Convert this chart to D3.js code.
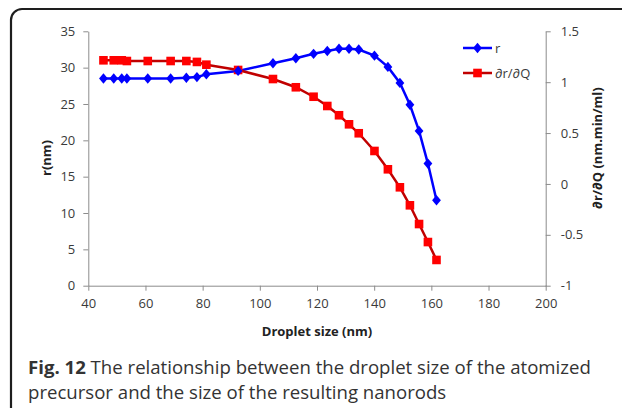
<!DOCTYPE html>
<html>
<head>
<meta charset="utf-8">
<script src="https://cdn.jsdelivr.net/npm/d3@7"></script>
<style>
  body { margin: 0; background: #fff; }
  svg { display: block; }
  .axis path, .axis line { stroke: #8c8c8c; }
  .axis text { font-family: "Open Sans", sans-serif; font-size: 13px; fill: #3a3a3a; }
</style>
</head>
<body>
<div id="chart"></div>
<script>
var dropletSize = [45.3, 48.9, 51.7, 53.5, 60.8, 68.8, 74.3, 78, 81.3, 92.4, 104.6, 112.6,
                   118.8, 123.6, 127.7, 131.2, 134.6, 140.1, 144.8, 149, 152.5, 155.7, 158.8, 161.8];
var rValues = [28.5, 28.5, 28.5, 28.5, 28.5, 28.5, 28.6, 28.7, 29.1, 29.55, 30.6, 31.3,
               31.9, 32.3, 32.6, 32.6, 32.5, 31.65, 30.1, 27.9, 24.9, 21.3, 16.8, 11.75];
var drdqValues = [1.215, 1.215, 1.215, 1.208, 1.208, 1.208, 1.208, 1.199, 1.172, 1.12, 1.031, 0.95,
                  0.857, 0.766, 0.675, 0.586, 0.498, 0.324, 0.144, -0.033, -0.21, -0.394, -0.571, -0.747];
var xTicks = [40, 60, 80, 100, 120, 140, 160, 180, 200];
var leftTicks = [0, 5, 10, 15, 20, 25, 30, 35];
var rightTicks = [-1, -0.5, 0, 0.5, 1, 1.5];
var seriesNames = ["r", "\u2202r/\u2202Q"];

var width = 622, height = 408;
var svg = d3.select("#chart").append("svg")
  .attr("width", width)
  .attr("height", height);

svg.append("rect").attr("width", width).attr("height", height).attr("fill", "#fff");

// figure frame (runs off the right and bottom edges)
svg.append("rect")
  .attr("x", 11).attr("y", 9)
  .attr("width", 640).attr("height", 420)
  .attr("rx", 11)
  .attr("fill", "none")
  .attr("stroke", "#1e1e1e")
  .attr("stroke-width", 2.2);

var xScale = d3.scaleLinear().domain([40, 200]).range([88.3, 545.7]);
var yLeft = d3.scaleLinear().domain([0, 35]).range([285.7, 31.3]);
var yRight = d3.scaleLinear().domain([-1, 1.5]).range([285.7, 31.3]);

// plain hyphen for negatives, like the original
var fmt = function(d) { return String(d); };

svg.append("g")
  .attr("class", "axis")
  .attr("transform", "translate(0," + yLeft(0) + ")")
  .call(d3.axisBottom(xScale).tickValues(xTicks).tickSize(5).tickPadding(8).tickSizeOuter(0).tickFormat(fmt));

svg.append("g")
  .attr("class", "axis")
  .attr("transform", "translate(" + xScale(40) + ",0)")
  .call(d3.axisLeft(yLeft).tickValues(leftTicks).tickSize(5).tickPadding(8).tickSizeOuter(0).tickFormat(fmt));

svg.append("g")
  .attr("class", "axis")
  .attr("transform", "translate(" + xScale(200) + ",0)")
  .call(d3.axisRight(yRight).tickValues(rightTicks).tickSize(5).tickPadding(10).tickSizeOuter(0).tickFormat(fmt));

// axis titles
svg.append("text")
  .attr("x", 317).attr("y", 336)
  .attr("text-anchor", "middle")
  .style("font-family", "'Open Sans', sans-serif")
  .style("font-weight", "bold").style("font-size", "13px").attr("fill", "#222")
  .text("Droplet size (nm)");

svg.append("text")
  .attr("transform", "translate(51,158) rotate(-90)")
  .attr("text-anchor", "middle")
  .style("font-family", "'Open Sans', sans-serif")
  .style("font-weight", "bold").style("font-size", "13px").attr("fill", "#222")
  .text("r(nm)");

svg.append("text")
  .attr("transform", "translate(602,148) rotate(-90)")
  .attr("text-anchor", "middle")
  .style("font-family", "'Open Sans', sans-serif")
  .style("font-weight", "bold").style("font-size", "13px").attr("fill", "#222")
  .text("\u2202r/\u2202Q  (nm.min/ml)");

var rData = dropletSize.map(function(x, i) { return {x: x, y: rValues[i]}; });
var qData = dropletSize.map(function(x, i) { return {x: x, y: drdqValues[i]}; });

var diamond = "M0,-5.2L4.4,0L0,5.2L-4.4,0Z";

// r series
svg.append("path")
  .datum(rData)
  .attr("fill", "none")
  .attr("stroke", "#0000ff")
  .attr("stroke-width", 2.5)
  .attr("d", d3.line().x(function(d) { return xScale(d.x); }).y(function(d) { return yLeft(d.y); }));

// dr/dQ series
svg.append("path")
  .datum(qData)
  .attr("fill", "none")
  .attr("stroke", "#c00000")
  .attr("stroke-width", 2.5)
  .attr("d", d3.line().x(function(d) { return xScale(d.x); }).y(function(d) { return yRight(d.y); }));

svg.selectAll(".sq")
  .data(qData).enter().append("rect")
  .attr("class", "sq")
  .attr("x", function(d) { return xScale(d.x) - 4.3; })
  .attr("y", function(d) { return yRight(d.y) - 4.3; })
  .attr("width", 8.6).attr("height", 8.6)
  .attr("fill", "#ff0000");

svg.selectAll(".dm")
  .data(rData).enter().append("path")
  .attr("class", "dm")
  .attr("transform", function(d) { return "translate(" + xScale(d.x) + "," + yLeft(d.y) + ")"; })
  .attr("d", diamond)
  .attr("fill", "#0000ff");

// legend
var legend = svg.append("g").attr("transform", "translate(463,48)");
seriesNames.forEach(function(name, i) {
  var g = legend.append("g").attr("transform", "translate(0," + (i * 25) + ")");
  g.append("line").attr("x1", 0).attr("x2", 29).attr("y1", 0).attr("y2", 0)
    .attr("stroke", i === 0 ? "#0000ff" : "#c00000").attr("stroke-width", 2.5);
  if (i === 0) {
    g.append("path").attr("transform", "translate(14.5,0)").attr("d", diamond).attr("fill", "#0000ff");
  } else {
    g.append("rect").attr("x", 10.2).attr("y", -4.3).attr("width", 8.6).attr("height", 8.6).attr("fill", "#ff0000");
  }
  g.append("text").attr("x", 32).attr("y", 4.5)
    .style("font-family", "'Open Sans', sans-serif").style("font-size", "13px").attr("fill", "#3a3a3a")
    .text(name);
});

// caption
var cap1 = svg.append("text")
  .attr("x", 28).attr("y", 374)
  .style("font-family", "'Open Sans', sans-serif").style("font-size", "18.6px").attr("fill", "#333");
cap1.append("tspan").style("font-weight", "bold").text("Fig. 12");
cap1.append("tspan").text(" The relationship between the droplet size of the atomized");

svg.append("text")
  .attr("x", 28).attr("y", 399)
  .style("font-family", "'Open Sans', sans-serif").style("font-size", "18.6px").attr("fill", "#333")
  .text("precursor and the size of the resulting nanorods");
</script>
</body>
</html>
